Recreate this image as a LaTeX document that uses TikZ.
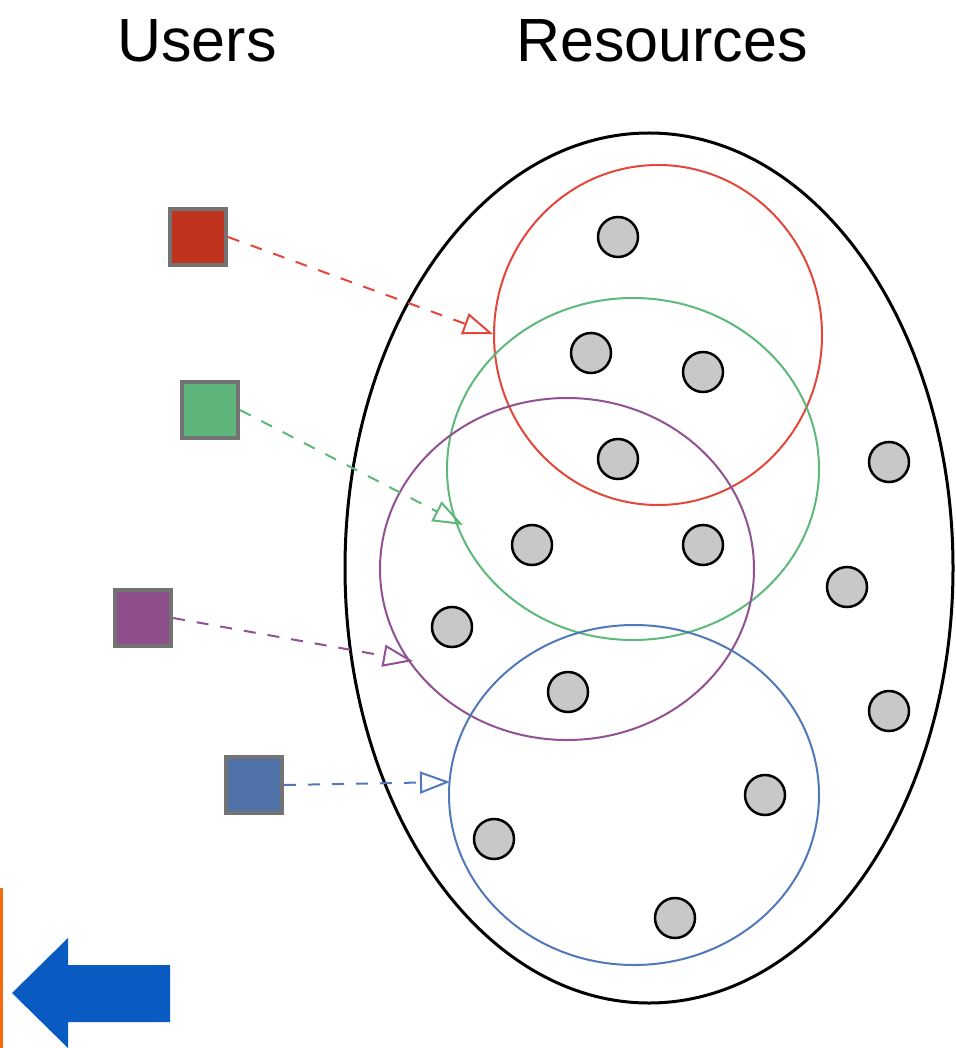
\documentclass[tikz,border=0pt]{standalone}
\usepackage{fontspec}
\setmainfont{Liberation Sans}
\usetikzlibrary{arrows.meta}
\definecolor{ured}{HTML}{C0341F}
\definecolor{ugreen}{HTML}{5DB57C}
\definecolor{upurple}{HTML}{8E4E8C}
\definecolor{ublue}{HTML}{4F73A9}
\definecolor{cred}{HTML}{E2473A}
\definecolor{cgreen}{HTML}{5DB87A}
\definecolor{cpurple}{HTML}{915193}
\definecolor{cblue}{HTML}{5078BA}
\definecolor{dotgray}{HTML}{C8C8C8}
\definecolor{bigarrow}{HTML}{0A5BC1}
\definecolor{edgeorange}{HTML}{F26B0F}
\begin{document}
\begin{tikzpicture}[x=1pt,y=-1pt,
  user/.style={draw=black!55, line width=4pt, minimum size=56pt, inner sep=0pt},
  res/.style={circle, draw=black, fill=dotgray, line width=2.5pt, minimum size=40pt, inner sep=0pt},
  group/.style={line width=2pt},
  req/.style={dashed, dash pattern=on 12pt off 12pt, line width=2pt,
    -{Triangle[open, length=30pt, width=22pt, line width=2pt]}},
  title/.style={font=\fontsize{61}{70}\selectfont, anchor=base, inner sep=0pt}]
\useasboundingbox (0,0) rectangle (955,1048);

% headings
\node[title] (tu) at (197,62) {Users};
\node[title] (tr) at (662,62) {Resources};

% resource pool
\draw[line width=3pt] (649,568) ellipse [x radius=304, y radius=435];

% resources
\foreach \p/\n in {(618,237)/r1,(591,353)/r2,(703,372)/r3,(618,459)/r4,(889,462)/r5,
                   (532,545)/r6,(703,545)/r7,(847,587)/r8,(452,627)/r9,(568,692)/r10,
                   (889,711)/r11,(765,795)/r12,(494,839)/r13,(675,918)/r14}
  \node[res] (\n) at \p {};

% resource groups
\draw[group, cred]    (658,335) ellipse [x radius=164, y radius=170];
\draw[group, cgreen]  (633,469) ellipse [x radius=186, y radius=171];
\draw[group, cpurple] (567,569) ellipse [x radius=187, y radius=171];
\draw[group, cblue]   (634,795) ellipse [x radius=185, y radius=170];

% users
\node[user, fill=ured]    (ua) at (198,237) {};
\node[user, fill=ugreen]  (ub) at (210,410) {};
\node[user, fill=upurple] (uc) at (143,618) {};
\node[user, fill=ublue]   (ud) at (254,785) {};

% group entry points
\coordinate (ga) at (493,334);
\coordinate (gb) at (463,525);
\coordinate (gc) at (413,661);
\coordinate (gd) at (450,782);

% requests
\draw[req, cred]    (ua.east) -- (ga);
\draw[req, cgreen]  (ub.east) -- (gb);
\draw[req, cpurple] (uc.east) -- (gc);
\draw[req, cblue]   (ud.east) -- (gd);

% edge marker and back arrow
\fill[edgeorange] (0,888) rectangle (3,1048);
\fill[bigarrow] (12,993) -- (68,938) -- (68,965) -- (170,965) -- (170,1022)
  -- (68,1022) -- (68,1048) -- cycle;
\end{tikzpicture}
\end{document}
